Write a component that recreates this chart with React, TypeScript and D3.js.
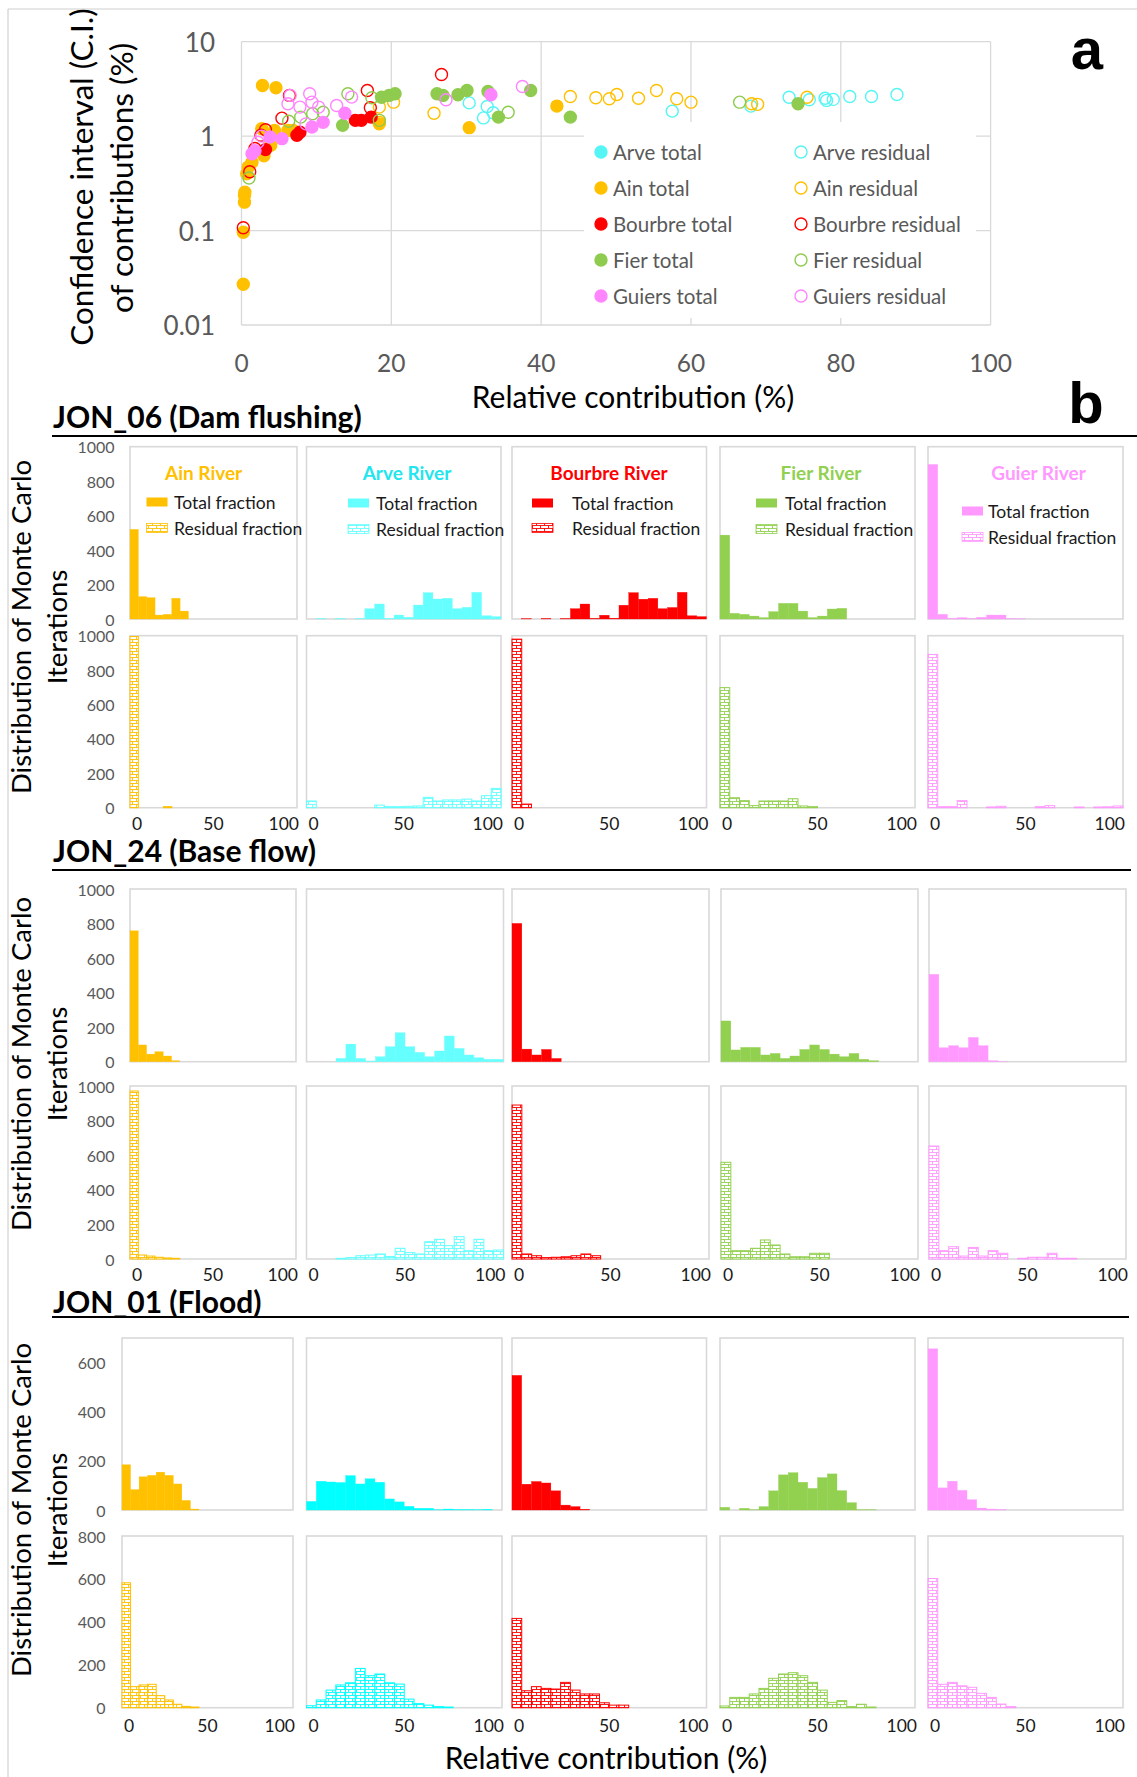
import React from 'react';
import * as d3 from 'd3';

// ---------------- DATA ----------------
// Panel a: scatter of [relative contribution %, C.I. %]
const arveTotal: [number, number][] = [];
const arveResidual: [number, number][] = [
  [30.4, 2.25], [32.8, 2.06], [33.6, 1.77], [32.3, 1.56], [57.5, 1.84], [68, 2.08], [73.1, 2.58],
  [75.8, 2.43], [77.9, 2.52], [78.1, 2.39], [79, 2.45], [81.2, 2.63], [84.1, 2.63], [87.5, 2.76],
];
const ainTotal: [number, number][] = [
  [2.8, 3.44], [4.6, 3.25], [0.24, 0.096], [0.24, 0.027], [0.4, 0.2], [0.4, 0.235], [0.45, 0.255],
  [0.7, 0.4], [0.9, 0.47], [1.4, 0.53], [2.7, 1.2], [4.4, 1.15], [3.9, 0.8], [3.0, 0.62],
  [6.2, 1.15], [6.9, 1.15], [7.4, 1.06], [18.4, 1.35], [42.1, 2.08], [30.4, 1.23],
];
const ainResidual: [number, number][] = [
  [18.4, 2.03], [20.3, 2.29], [25.7, 1.75], [18.4, 1.4], [43.9, 2.63], [47.3, 2.55], [49.1, 2.49],
  [50.1, 2.76], [53, 2.52], [55.4, 3.04], [58.1, 2.49], [60, 2.29], [68.1, 2.2], [68.9, 2.17], [75.5, 2.58],
];
const bourbreTotal: [number, number][] = [
  [3.2, 0.72], [7.8, 1.1], [7.4, 1.02], [15.2, 1.47], [16, 1.47], [17.3, 1.59],
];
const bourbreResidual: [number, number][] = [
  [0.24, 0.107], [1.1, 0.42], [1.8, 0.74], [2.6, 1.02], [3.2, 1.17], [5.4, 1.55], [6.4, 2.7],
  [16.8, 3.04], [17.2, 2.0], [26.7, 4.5],
];
const fierTotal: [number, number][] = [
  [13.5, 1.3], [18.7, 2.58], [19.7, 2.7], [20.5, 2.81], [26.1, 2.81], [26.9, 2.7], [28.9, 2.74],
  [30.1, 3.04], [32.9, 2.97], [38.6, 3.04], [34.3, 1.59], [43.9, 1.59], [74.3, 2.2],
];
const fierResidual: [number, number][] = [
  [1.0, 0.36], [6.3, 1.44], [9.5, 1.73], [10.9, 1.79], [14.2, 2.81], [17.4, 2.55], [18.4, 1.47],
  [7.9, 1.59], [35.6, 1.79], [66.5, 2.29],
];
const guiersTotal: [number, number][] = [
  [1.4, 0.65], [1.8, 0.7], [3.8, 0.98], [5.4, 0.94], [9.4, 1.25], [10.9, 1.4], [13.8, 1.75], [33.3, 2.74],
];
const guiersResidual: [number, number][] = [
  [2.2, 0.86], [2.7, 1.0], [6.2, 2.2], [6.5, 2.7], [7.8, 2.03], [9.1, 2.81], [9.4, 2.29], [10.3, 2.03],
  [12.7, 2.11], [14.7, 2.59], [8.6, 1.35], [27.3, 2.43], [37.5, 3.36],
];
const scatterXTicks = [0, 20, 40, 60, 80, 100];
const scatterYTicks = [0.01, 0.1, 1, 10];
const scatterYTickLabels = ['0.01', '0.1', '1', '10'];

// Panel b: histogram counts per 5 % bin (0-100), rivers: Ain, Arve, Bourbre, Fier, Guier
const rivers = ['Ain River', 'Arve River', 'Bourbre River', 'Fier River', 'Guier River'];
const sectionTitles = ['JON_06 (Dam flushing)', 'JON_24 (Base flow)', 'JON_01 (Flood)'];

const jon06Total = [
  [520, 130, 124, 23, 27, 120, 46, 0, 0, 0, 0, 0, 0, 0, 0, 0, 0, 0, 0, 0],
  [0, 2, 0, 3, 0, 3, 60, 87, 4, 23, 10, 81, 153, 116, 120, 60, 68, 155, 19, 14],
  [0, 2, 0, 3, 0, 3, 60, 87, 4, 22, 5, 80, 153, 115, 120, 60, 67, 155, 19, 14],
  [487, 33, 27, 17, 8, 43, 91, 91, 46, 8, 17, 58, 62, 0, 0, 0, 0, 0, 0, 0],
  [897, 27, 4, 8, 2, 10, 23, 23, 2, 1, 0, 0, 0, 0, 0, 0, 0, 0, 0, 0],
];
const jon06Residual = [
  [995, 0, 0, 0, 6, 0, 0, 0, 0, 0, 0, 0, 0, 0, 0, 0, 0, 0, 0, 0],
  [39, 0, 0, 0, 0, 0, 0, 15, 6, 6, 8, 10, 60, 39, 45, 45, 50, 39, 70, 112],
  [980, 21, 0, 0, 0, 0, 0, 0, 0, 0, 0, 0, 0, 0, 0, 0, 0, 0, 0, 0],
  [698, 58, 41, 12, 39, 39, 39, 52, 10, 6, 0, 0, 0, 0, 0, 0, 0, 0, 0, 0],
  [891, 6, 6, 41, 0, 0, 4, 8, 0, 0, 0, 6, 12, 0, 0, 4, 0, 4, 5, 10],
];
const jon24Total = [
  [758, 97, 44, 58, 33, 6, 0, 0, 0, 0, 0, 0, 0, 0, 0, 0, 0, 0, 0, 0],
  [0, 0, 0, 19, 102, 19, 4, 29, 87, 168, 87, 54, 29, 62, 149, 77, 39, 23, 14, 14],
  [801, 73, 39, 71, 19, 0, 0, 0, 0, 0, 0, 0, 0, 0, 0, 0, 0, 0, 0, 0],
  [236, 68, 83, 83, 39, 48, 19, 33, 71, 97, 71, 44, 29, 48, 14, 6, 0, 0, 0, 0],
  [506, 81, 93, 81, 141, 93, 6, 2, 0, 0, 0, 0, 0, 0, 0, 0, 0, 0, 0, 0],
];
const jon24Residual = [
  [971, 23, 17, 10, 6, 4, 0, 0, 0, 0, 0, 0, 0, 0, 0, 0, 0, 0, 0, 0],
  [0, 0, 0, 4, 8, 19, 23, 29, 14, 62, 37, 29, 100, 114, 77, 129, 48, 114, 48, 52],
  [890, 29, 19, 8, 10, 13, 19, 29, 19, 0, 0, 0, 0, 0, 0, 0, 0, 0, 0, 0],
  [559, 48, 48, 62, 110, 81, 29, 13, 13, 33, 33, 0, 0, 0, 0, 0, 0, 0, 0, 0],
  [653, 48, 71, 17, 67, 17, 48, 33, 0, 4, 10, 10, 33, 4, 4, 0, 0, 0, 0, 0],
];
const jon01Total = [
  [184, 83, 135, 141, 154, 141, 106, 39, 4, 0, 0, 0, 0, 0, 0, 0, 0, 0, 0, 0],
  [35, 117, 114, 112, 140, 106, 127, 113, 45, 33, 15, 7, 7, 1, 4, 2, 2, 1, 3, 0],
  [548, 105, 116, 110, 78, 20, 14, 3, 0, 0, 0, 0, 0, 0, 0, 0, 0, 0, 0, 0],
  [11, 0, 7, 1, 14, 78, 143, 152, 113, 88, 132, 147, 79, 30, 1, 1, 0, 0, 0, 0],
  [656, 90, 117, 80, 42, 8, 4, 2, 0, 0, 0, 0, 0, 0, 0, 0, 0, 0, 0, 0],
];
const jon01Residual = [
  [582, 98, 106, 109, 56, 36, 16, 6, 3, 0, 0, 0, 0, 0, 0, 0, 0, 0, 0, 0],
  [9, 36, 82, 106, 116, 183, 149, 157, 116, 110, 40, 19, 12, 5, 3, 0, 0, 0, 0, 0],
  [416, 79, 98, 90, 87, 118, 82, 64, 64, 23, 12, 12, 0, 0, 0, 0, 0, 0, 0, 0],
  [8, 48, 48, 64, 90, 137, 157, 163, 149, 118, 82, 25, 33, 5, 16, 3, 0, 0, 0, 0],
  [602, 109, 118, 102, 95, 67, 48, 17, 5, 0, 0, 0, 0, 0, 0, 0, 0, 0, 0, 0],
];
const countTicks1000 = [0, 200, 400, 600, 800, 1000];
const countTicksFloodTotal = [0, 200, 400, 600];
const countTicksFloodResidual = [0, 200, 400, 600, 800];
const contributionTicks = [0, 50, 100];
const binWidth = 5;

// ---------------- STYLE / LAYOUT ----------------
const FONT = 'Lato, "Open Sans", sans-serif';
const RIVER_COLORS = ['#FFC000', '#00FFFF', '#FF0000', '#92D050', '#FF99FF'];
const TITLE_COLORS = ['#FFC000', '#22E6EE', '#FF0000', '#92D050', '#FF99FF'];
const GRID = '#d9d9d9';
const TICK_GREY = '#595959';

const scatterSeries = [
  { name: 'Arve total', data: arveTotal, color: '#55F5F5', filled: true },
  { name: 'Arve residual', data: arveResidual, color: '#55F5F5', filled: false },
  { name: 'Ain total', data: ainTotal, color: '#FFC000', filled: true },
  { name: 'Ain residual', data: ainResidual, color: '#FFC000', filled: false },
  { name: 'Bourbre total', data: bourbreTotal, color: '#FF0000', filled: true },
  { name: 'Bourbre residual', data: bourbreResidual, color: '#FF0000', filled: false },
  { name: 'Fier total', data: fierTotal, color: '#8FCB4E', filled: true },
  { name: 'Fier residual', data: fierResidual, color: '#8FCB4E', filled: false },
  { name: 'Guiers total', data: guiersTotal, color: '#FF85FF', filled: true },
  { name: 'Guiers residual', data: guiersResidual, color: '#FF85FF', filled: false },
];

const sections = [
  {
    title: sectionTitles[0], titleY: 428, lineY: 436, lineX2: 1137,
    rows: [
      { top: 446.7, bottom: 619, max: 1000, ticks: countTicks1000, data: jon06Total, residual: false },
      { top: 635.7, bottom: 807.7, max: 1000, ticks: countTicks1000, data: jon06Residual, residual: true },
    ],
    tickY: 823, yTickX: 114.5, yLabelY: 627, arve: '#66FFFF',
    boxes: [[130, 297], [306.5, 501], [512, 706.5], [720, 915], [928, 1123]],
  },
  {
    title: sectionTitles[1], titleY: 862, lineY: 870, lineX2: 1131,
    rows: [
      { top: 889, bottom: 1061.7, max: 1000, ticks: countTicks1000, data: jon24Total, residual: false },
      { top: 1086, bottom: 1259, max: 1000, ticks: countTicks1000, data: jon24Residual, residual: true },
    ],
    tickY: 1274, yTickX: 114.5, yLabelY: 1064, arve: '#66FFFF',
    boxes: [[130, 296], [306.5, 503.5], [512, 709], [721, 918], [929, 1126]],
  },
  {
    title: sectionTitles[2], titleY: 1313, lineY: 1317, lineX2: 1129,
    rows: [
      { top: 1338, bottom: 1510, max: 700, ticks: countTicksFloodTotal, data: jon01Total, residual: false },
      { top: 1536, bottom: 1707.7, max: 800, ticks: countTicksFloodResidual, data: jon01Residual, residual: true },
    ],
    tickY: 1725, yTickX: 105.5, yLabelY: 1510, arve: '#00FFFF',
    boxes: [[122, 293], [306.5, 502], [512, 706.5], [720, 915], [928, 1123]],
  },
];

// legend placement inside the JON_06 total panels
const histLegend = [
  { tx: 203.6, ty: 472, sx: 146.5, lx: 174, y1: 502, y2: 528 },
  { tx: 407, ty: 472, sx: 348, lx: 376, y1: 503, y2: 529 },
  { tx: 609, ty: 472, sx: 532, lx: 572, y1: 503, y2: 528 },
  { tx: 821, ty: 472, sx: 756, lx: 785, y1: 503, y2: 529 },
  { tx: 1038.5, ty: 472, sx: 962, lx: 988, y1: 511, y2: 537 },
];

const patternId = (c: string) => 'brick' + c.replace('#', '');

function BrickPattern({ color }: { color: string }) {
  return (
    <pattern id={patternId(color)} width={8} height={6} patternUnits="userSpaceOnUse">
      <rect width={8} height={6} fill="#fff" />
      <path
        d="M0,0.5H8M0,3.5H8M0.5,0.5V3.5M4.5,3.5V6.5"
        stroke={color}
        strokeWidth={0.9}
        fill="none"
      />
    </pattern>
  );
}

function ScatterPanel() {
  const x = d3.scaleLinear().domain([0, 100]).range([241.5, 990.6]);
  const y = d3.scaleLog().domain([0.01, 10]).range([325, 41.7]);
  const legendRowsY = [152, 188, 224, 260, 296];
  return (
    <g>
      {scatterXTicks.map((t) => (
        <line key={'vx' + t} x1={x(t)} x2={x(t)} y1={y(10)} y2={y(0.01)} stroke={GRID} strokeWidth={1.3} />
      ))}
      {scatterYTicks.map((t) => (
        <line key={'hy' + t} x1={x(0)} x2={x(100)} y1={y(t)} y2={y(t)} stroke={GRID} strokeWidth={1.3} />
      ))}
      {scatterYTicks.map((t, i) => (
        <text key={'yl' + t} x={215} y={y(t)} textAnchor="end" dominantBaseline="central"
          fontFamily={FONT} fontSize={26} fill={TICK_GREY}>{scatterYTickLabels[i]}</text>
      ))}
      {scatterXTicks.map((t) => (
        <text key={'xl' + t} x={x(t)} y={362} textAnchor="middle" dominantBaseline="central"
          fontFamily={FONT} fontSize={24.5} fill={TICK_GREY}>{t}</text>
      ))}
      {scatterSeries.map((s) => (
        <g key={s.name}>
          {s.data.map((d, i) => (
            <circle key={i} cx={x(d[0])} cy={y(d[1])} r={6}
              fill={s.filled ? s.color : 'none'} stroke={s.color} strokeWidth={1.4} />
          ))}
        </g>
      ))}
      {/* legend */}
      <rect x={584} y={122} width={392} height={196} fill="#fff" />
      {scatterSeries.map((s, i) => {
        const row = Math.floor(i / 2);
        const col = i % 2;
        const cx = col === 0 ? 601 : 801;
        const ly = legendRowsY[row];
        return (
          <g key={'lg' + s.name}>
            <circle cx={cx} cy={ly} r={6} fill={s.filled ? s.color : 'none'} stroke={s.color} strokeWidth={1.4} />
            <text x={cx + 12} y={ly} dominantBaseline="central" fontFamily={FONT} fontSize={20.5} fill={TICK_GREY}>{s.name}</text>
          </g>
        );
      })}
      <text transform={`translate(81,177) rotate(-90)`} textAnchor="middle" dominantBaseline="central"
        fontFamily={FONT} fontSize={31.5} fill="#000">Confidence interval (C.I.)</text>
      <text transform={`translate(121,178) rotate(-90)`} textAnchor="middle" dominantBaseline="central"
        fontFamily={FONT} fontSize={31.5} fill="#000">of contributions (%)</text>
      <text x={633} y={396} textAnchor="middle" dominantBaseline="central" fontFamily={FONT} fontSize={30} fill="#000">
        Relative contribution (%)
      </text>
      <text x={1087} y={69} textAnchor="middle" fontFamily="Arial, 'Liberation Sans', sans-serif" fontWeight="bold" fontSize={58} fill="#000">a</text>
    </g>
  );
}

function HistSection({ sec, showLegend }: { sec: typeof sections[number]; showLegend: boolean }) {
  return (
    <g>
      <text x={53} y={sec.titleY} fontFamily={FONT} fontWeight="bold" fontSize={30} fill="#000">{sec.title}</text>
      <line x1={52} x2={sec.lineX2} y1={sec.lineY} y2={sec.lineY} stroke="#000" strokeWidth={2.2} />
      <text transform={`translate(20,${sec.yLabelY}) rotate(-90)`} textAnchor="middle" dominantBaseline="central"
        fontFamily={FONT} fontSize={27.5} fill="#000">Distribution of Monte Carlo</text>
      <text transform={`translate(56,${sec.yLabelY}) rotate(-90)`} textAnchor="middle" dominantBaseline="central"
        fontFamily={FONT} fontSize={27.5} fill="#000">Iterations</text>
      {sec.rows.map((row, ri) => {
        const y = d3.scaleLinear().domain([0, row.max]).range([row.bottom, row.top]);
        return (
          <g key={ri}>
            {row.ticks.map((t) => (
              <text key={t} x={sec.yTickX} y={y(t)} textAnchor="end" dominantBaseline="central"
                fontFamily={FONT} fontSize={16} fill={TICK_GREY}>{t}</text>
            ))}
            {sec.boxes.map((b, k) => {
              const x = d3.scaleLinear().domain([0, 100]).range([b[0], b[1]]);
              const color = k === 1 ? sec.arve : RIVER_COLORS[k];
              const counts = row.data[k];
              return (
                <g key={k}>
                  <rect x={b[0]} y={row.top} width={b[1] - b[0]} height={row.bottom - row.top}
                    fill="#fff" stroke={GRID} strokeWidth={1.6} />
                  {counts.map((c, i) =>
                    c > 0 ? (
                      <rect key={i}
                        x={x(i * binWidth)}
                        y={y(c)}
                        width={x((i + 1) * binWidth) - x(i * binWidth)}
                        height={y(0) - y(c)}
                        fill={row.residual ? `url(#${patternId(color)})` : color}
                        stroke={color}
                        strokeWidth={row.residual ? 1 : 0.3}
                      />
                    ) : null
                  )}
                </g>
              );
            })}
          </g>
        );
      })}
      {sec.boxes.map((b, k) => {
        const x = d3.scaleLinear().domain([0, 100]).range([b[0], b[1]]);
        return (
          <g key={'xt' + k}>
            {contributionTicks.map((t, i) => (
              <text key={t}
                x={i === 0 ? x(t) + 7 : i === 2 ? x(t) + 2 : x(t)}
                y={sec.tickY}
                textAnchor={i === 2 ? 'end' : 'middle'}
                dominantBaseline="central" fontFamily={FONT} fontSize={17.5} fill="#1a1a1a">{t}</text>
            ))}
          </g>
        );
      })}
      {showLegend &&
        histLegend.map((l, k) => {
          const color = k === 1 ? sec.arve : RIVER_COLORS[k];
          return (
            <g key={'hl' + k}>
              <text x={l.tx} y={l.ty} textAnchor="middle" dominantBaseline="central" fontFamily={FONT}
                fontWeight="bold" fontSize={19} fill={TITLE_COLORS[k]}>{rivers[k]}</text>
              <rect x={l.sx} y={l.y1 - 4.5} width={21} height={9} fill={color} />
              <rect x={l.sx} y={l.y2 - 4.5} width={21} height={9} fill={`url(#${patternId(color)})`} stroke={color} strokeWidth={0.8} />
              <text x={l.lx} y={l.y1} dominantBaseline="central" fontFamily={FONT} fontSize={17.5} fill="#1a1a1a">Total fraction</text>
              <text x={l.lx} y={l.y2} dominantBaseline="central" fontFamily={FONT} fontSize={17.5} fill="#1a1a1a">Residual fraction</text>
            </g>
          );
        })}
    </g>
  );
}

export default function App() {
  const patternColors = Array.from(new Set([...RIVER_COLORS, '#66FFFF']));
  return (
    <svg width={1137} height={1777} viewBox="0 0 1137 1777"
      style={{ position: 'absolute', left: 0, top: 0, display: 'block', background: '#fff' }}>
      <defs>
        {patternColors.map((c) => (
          <BrickPattern key={c} color={c} />
        ))}
      </defs>
      <rect x={0} y={0} width={1137} height={1777} fill="#fff" />
      <line x1={8} x2={8} y1={9} y2={1777} stroke="#d0d0d0" strokeWidth={1.2} />
      <line x1={8} x2={1137} y1={9} y2={9} stroke="#d0d0d0" strokeWidth={1.2} />
      <ScatterPanel />
      <text x={1086} y={423} textAnchor="middle" fontFamily="Arial, 'Liberation Sans', sans-serif" fontWeight="bold" fontSize={58} fill="#000">b</text>
      {sections.map((s, i) => (
        <HistSection key={i} sec={s} showLegend={i === 0} />
      ))}
      <text x={606} y={1757} textAnchor="middle" dominantBaseline="central" fontFamily={FONT} fontSize={30} fill="#000">
        Relative contribution (%)
      </text>
    </svg>
  );
}
